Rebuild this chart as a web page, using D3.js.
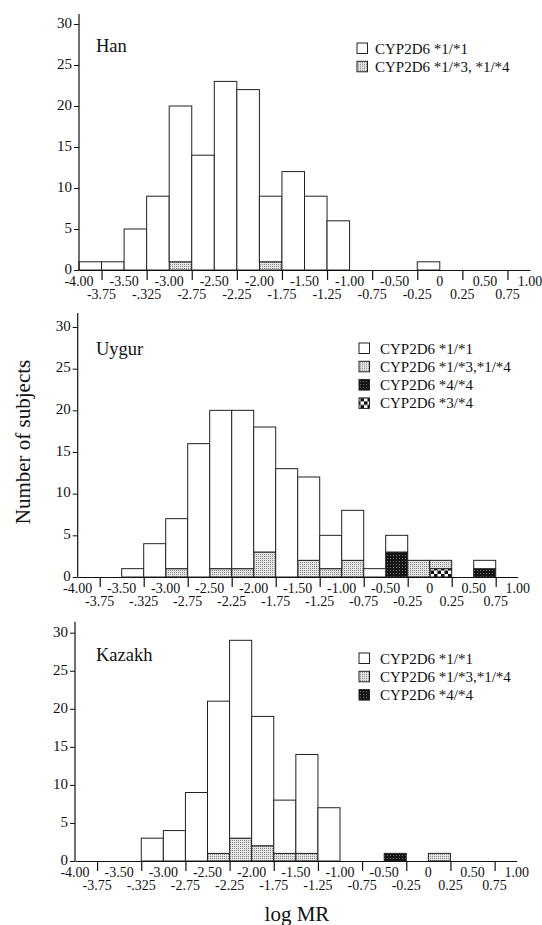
<!DOCTYPE html>
<html>
<head>
<meta charset="utf-8">
<script src="https://cdn.jsdelivr.net/npm/d3@7"></script>
<style>
  body { margin: 0; background: #fff; }
  svg text { font-family: "Liberation Serif", "DejaVu Serif", serif !important; fill: #111; }
</style>
</head>
<body>
<div id="chart"></div>
<script>
// bin starts (width 0.25)
var binStarts = [-4.00, -3.75, -3.50, -3.25, -3.00, -2.75, -2.50, -2.25, -2.00, -1.75,
                 -1.50, -1.25, -1.00, -0.75, -0.50, -0.25, 0.00, 0.25, 0.50, 0.75];

// counts per genotype (stacked: *3/*4, *4/*4, het, *1/*1)
var hanWt   = [1, 1, 5, 9, 19, 14, 23, 22, 8, 12, 9, 6, 0, 0, 0, 1, 0, 0, 0, 0];
var hanHet  = [0, 0, 0, 0, 1, 0, 0, 0, 1, 0, 0, 0, 0, 0, 0, 0, 0, 0, 0, 0];

var uygurWt   = [0, 0, 1, 4, 6, 16, 19, 19, 15, 13, 10, 4, 6, 1, 2, 0, 0, 0, 1, 0];
var uygurHet  = [0, 0, 0, 0, 1, 0, 1, 1, 3, 0, 2, 1, 2, 0, 0, 2, 1, 0, 0, 0];
var uygur44   = [0, 0, 0, 0, 0, 0, 0, 0, 0, 0, 0, 0, 0, 0, 3, 0, 0, 0, 1, 0];
var uygur34   = [0, 0, 0, 0, 0, 0, 0, 0, 0, 0, 0, 0, 0, 0, 0, 0, 1, 0, 0, 0];

var kazakhWt  = [0, 0, 0, 3, 4, 9, 20, 26, 17, 7, 13, 7, 0, 0, 0, 0, 0, 0, 0, 0];
var kazakhHet = [0, 0, 0, 0, 0, 0, 1, 3, 2, 1, 1, 0, 0, 0, 0, 0, 1, 0, 0, 0];
var kazakh44  = [0, 0, 0, 0, 0, 0, 0, 0, 0, 0, 0, 0, 0, 0, 1, 0, 0, 0, 0, 0];

var yTicks = [0, 5, 10, 15, 20, 25, 30];
var rowOneTicks  = [-4, -3.5, -3, -2.5, -2, -1.5, -1, -0.5, 0, 0.5, 1];
var rowOneLabels = ["-4.00", "-3.50", "-3.00", "-2.50", "-2.00", "-1.50", "-1.00", "-0.50", "0", "0.50", "1.00"];
var rowTwoTicks  = [-3.75, -3.25, -2.75, -2.25, -1.75, -1.25, -0.75, -0.25, 0.25, 0.75];
var rowTwoLabels = ["-3.75", "-.325", "-2.75", "-2.25", "-1.75", "-1.25", "-0.75", "-0.25", "0.25", "0.75"];

var serif = "Liberation Serif, DejaVu Serif, serif";

var svgWidth = 542;
var svgHeight = 925;

var svg = d3.select("#chart")
  .append("svg")
  .attr("width", svgWidth)
  .attr("height", svgHeight)
  .attr("font-family", serif);

// fill patterns
var defs = svg.append("defs");

var het = defs.append("pattern").attr("id", "het")
  .attr("patternUnits", "userSpaceOnUse").attr("width", 2).attr("height", 2);
het.append("rect").attr("width", 2).attr("height", 2).attr("fill", "#e4e4e4");
het.append("rect").attr("width", 1).attr("height", 1).attr("fill", "#8a8a8a");

var hom = defs.append("pattern").attr("id", "hom")
  .attr("patternUnits", "userSpaceOnUse").attr("width", 3).attr("height", 3);
hom.append("rect").attr("width", 3).attr("height", 3).attr("fill", "#151515");
hom.append("rect").attr("width", 1).attr("height", 1).attr("fill", "#777");

var chk = defs.append("pattern").attr("id", "chk")
  .attr("patternUnits", "userSpaceOnUse").attr("width", 7).attr("height", 7);
chk.append("rect").attr("width", 7).attr("height", 7).attr("fill", "#fff");
chk.append("rect").attr("width", 3.5).attr("height", 3.5).attr("fill", "#111");
chk.append("rect").attr("x", 3.5).attr("y", 3.5).attr("width", 3.5).attr("height", 3.5).attr("fill", "#111");

var fills = { c34: "url(#chk)", c44: "url(#hom)", het: "url(#het)", wt: "#fff" };

var panels = [
  {
    name: "Han", x0: 79, x1: 530, y0: 270, y30: 24, top: 14,
    series: { c34: null, c44: null, het: hanHet, wt: hanWt },
    legendX: 357, legendText: 375, legendY: 53.5,
    legend: [["wt", "CYP2D6 *1/*1"], ["het", "CYP2D6 *1/*3, *1/*4"]]
  },
  {
    name: "Uygur", x0: 77.7, x1: 517.7, y0: 577, y30: 327, top: 313,
    series: { c34: uygur34, c44: uygur44, het: uygurHet, wt: uygurWt },
    legendX: 359, legendText: 380, legendY: 353.5,
    legend: [["wt", "CYP2D6 *1/*1"], ["het", "CYP2D6 *1/*3,*1/*4"], ["c44", "CYP2D6 *4/*4"], ["c34", "CYP2D6 *3/*4"]]
  },
  {
    name: "Kazakh", x0: 75, x1: 516.7, y0: 861, y30: 632.7, top: 621.7,
    series: { c34: null, c44: kazakh44, het: kazakhHet, wt: kazakhWt },
    legendX: 359, legendText: 380, legendY: 663.5,
    legend: [["wt", "CYP2D6 *1/*1"], ["het", "CYP2D6 *1/*3,*1/*4"], ["c44", "CYP2D6 *4/*4"]]
  }
];

panels.forEach(function(p) {
  var xScale = d3.scaleLinear().domain([-4, 1]).range([p.x0, p.x1]);
  var yScale = d3.scaleLinear().domain([0, 30]).range([p.y0, p.y30]);

  var keys = ["c34", "c44", "het", "wt"].filter(function(k) { return p.series[k]; });
  var rows = binStarts.map(function(b, i) {
    var r = { start: b };
    keys.forEach(function(k) { r[k] = p.series[k][i]; });
    return r;
  });
  var stacked = d3.stack().keys(keys)(rows);

  var g = svg.append("g");

  stacked.forEach(function(layer) {
    g.selectAll(null)
      .data(layer.filter(function(d) { return d[1] > d[0]; }))
      .enter()
      .append("rect")
      .attr("x", function(d) { return xScale(d.data.start); })
      .attr("width", function(d) { return xScale(d.data.start + 0.25) - xScale(d.data.start); })
      .attr("y", function(d) { return yScale(d[1]); })
      .attr("height", function(d) { return yScale(d[0]) - yScale(d[1]); })
      .attr("fill", fills[layer.key])
      .attr("stroke", "#222")
      .attr("stroke-width", 1);
  });

  // y axis
  var leftAxis = d3.axisLeft(yScale).tickValues(yTicks).tickSize(5).tickSizeOuter(0);
  var yAxis = g.append("g")
    .attr("transform", "translate(" + p.x0 + ",0)")
    .call(leftAxis)
    .attr("font-family", serif)
    .attr("font-size", 15);
  yAxis.select(".domain").remove();
  yAxis.selectAll("line").attr("stroke", "#111");
  yAxis.selectAll("text")
    .attr("fill", "#111")
    .attr("x", -7)
    .attr("dy", "0.22em");
  g.append("line")
    .attr("x1", p.x0).attr("x2", p.x0)
    .attr("y1", p.top).attr("y2", p.y0)
    .attr("stroke", "#111").attr("stroke-width", 1.2);

  // x axis
  var bottomAxis = d3.axisBottom(xScale).tickValues(rowTwoTicks).tickSize(10).tickSizeOuter(0).tickFormat("");
  var xAxis = g.append("g")
    .attr("transform", "translate(0," + p.y0 + ")")
    .call(bottomAxis);
  xAxis.select(".domain").attr("stroke", "#111").attr("stroke-width", 1.2);
  xAxis.selectAll("line").attr("stroke", "#111").attr("stroke-width", 1.2);

  g.selectAll(null)
    .data(rowOneTicks)
    .enter()
    .append("text")
    .attr("x", function(d) { return xScale(d); })
    .attr("y", p.y0 + 15.5)
    .attr("text-anchor", "middle")
    .attr("font-family", serif)
    .attr("font-size", "14px")
    .text(function(d, i) { return rowOneLabels[i]; });

  g.selectAll(null)
    .data(rowTwoTicks)
    .enter()
    .append("text")
    .attr("x", function(d) { return xScale(d); })
    .attr("y", p.y0 + 29)
    .attr("text-anchor", "middle")
    .attr("font-family", serif)
    .attr("font-size", "14px")
    .text(function(d, i) { return rowTwoLabels[i]; });

  // panel title
  g.append("text")
    .attr("x", 96)
    .attr("y", p.y30 + 28)
    .attr("font-family", serif)
    .attr("font-size", "18.5px")
    .text(p.name);

  // legend
  var leg = g.selectAll(".legend")
    .data(p.legend)
    .enter()
    .append("g")
    .attr("transform", function(d, i) { return "translate(0," + (p.legendY + i * 18.3) + ")"; });
  leg.append("rect")
    .attr("x", p.legendX)
    .attr("y", -10.5)
    .attr("width", 10.5)
    .attr("height", 10.5)
    .attr("fill", function(d) { return fills[d[0]]; })
    .attr("stroke", "#222");
  leg.append("text")
    .attr("x", p.legendText)
    .attr("y", 0)
    .attr("font-family", serif)
    .attr("font-size", "15px")
    .text(function(d) { return d[1]; });
});

svg.append("text")
  .attr("transform", "rotate(-90)")
  .attr("x", -442)
  .attr("y", 30)
  .attr("text-anchor", "middle")
  .attr("font-family", serif)
  .attr("font-size", "21px")
  .text("Number of subjects");

svg.append("text")
  .attr("x", 297)
  .attr("y", 921)
  .attr("text-anchor", "middle")
  .attr("font-family", serif)
  .attr("font-size", "21px")
  .text("log MR");
</script>
</body>
</html>
